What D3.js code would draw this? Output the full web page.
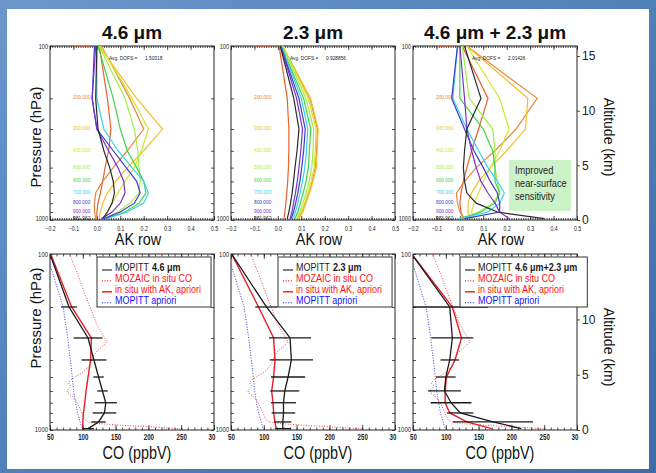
<!DOCTYPE html>
<html>
<head>
<meta charset="utf-8">
<script src="https://cdn.jsdelivr.net/npm/d3@7"></script>
<style>
  body { margin: 0; background: #4f80b8; }
  svg text { font-family: "Liberation Sans", Arial, sans-serif; }
</style>
</head>
<body>
<svg id="chart" width="656" height="473"></svg>
<script>
// ---- data ----
var levels = [100, 200, 300, 400, 500, 600, 700, 800, 900, 981.962];
var levelLabels = ['100.000','200.000','300.000','400.000','500.000','600.000','700.000','800.000','900.000','981.962'];
var levelColors = ['#e8622c','#e8883c','#f2bf2a','#d5e231','#a4ee45','#3fd24a','#36d2ee','#3a3ccc','#7a2fd0','#2a2a2a'];

var titles = ['4.6 \u03bcm', '2.3 \u03bcm', '4.6 \u03bcm + 2.3 \u03bcm'];
var dofs = ['1.50318', '0.928856', '2.01426'];
var akTicks = [-0.2, -0.1, 0.0, 0.1, 0.2, 0.3, 0.4, 0.5];
var coTicks = [50, 100, 150, 200, 250, 300];
var coTickLabels = ['50', '100', '150', '200', '250', '30'];
var altTicksTop = [0, 5, 10, 15];
var altTicksBottom = [0, 5, 10];

// averaging kernel rows (one per retrieval level, values at levels 100 hPa .. surface)
var ak46 = [
  [0.01, 0.045, 0.06, 0.05, 0.035, 0.025, 0.015, 0.005, 0.0, 0.0],
  [0.02, 0.14, 0.2, 0.13, 0.07, 0.025, -0.005, -0.01, -0.01, -0.005],
  [0.01, 0.17, 0.28, 0.2, 0.13, 0.08, 0.045, 0.025, 0.015, 0.01],
  [0.015, 0.15, 0.22, 0.19, 0.16, 0.12, 0.09, 0.065, 0.045, 0.03],
  [0.01, 0.12, 0.16, 0.175, 0.18, 0.185, 0.18, 0.14, 0.09, 0.035],
  [0.005, 0.07, 0.1, 0.13, 0.17, 0.2, 0.21, 0.18, 0.12, 0.04],
  [0.0, 0.0, 0.03, 0.09, 0.15, 0.2, 0.22, 0.2, 0.13, 0.04],
  [-0.01, -0.02, 0.0, 0.07, 0.125, 0.17, 0.185, 0.16, 0.1, 0.03],
  [-0.005, -0.02, 0.0, 0.05, 0.09, 0.115, 0.12, 0.1, 0.065, 0.02],
  [0.0, -0.005, 0.005, 0.03, 0.055, 0.07, 0.075, 0.065, 0.045, 0.025]
];
var ak23 = [
  [0.005, 0.04, 0.047, 0.047, 0.045, 0.042, 0.038, 0.034, 0.03, 0.026],
  [0.02, 0.137, 0.169, 0.165, 0.16, 0.147, 0.132, 0.117, 0.104, 0.088],
  [0.02, 0.14, 0.172, 0.168, 0.164, 0.15, 0.135, 0.12, 0.107, 0.09],
  [0.02, 0.13, 0.163, 0.16, 0.155, 0.142, 0.128, 0.114, 0.1, 0.085],
  [0.02, 0.12, 0.153, 0.15, 0.145, 0.133, 0.12, 0.107, 0.094, 0.08],
  [0.015, 0.11, 0.14, 0.135, 0.13, 0.12, 0.108, 0.096, 0.085, 0.072],
  [0.015, 0.1, 0.128, 0.122, 0.115, 0.105, 0.095, 0.085, 0.075, 0.064],
  [0.012, 0.09, 0.117, 0.11, 0.102, 0.094, 0.085, 0.076, 0.067, 0.057],
  [0.012, 0.08, 0.105, 0.098, 0.09, 0.083, 0.075, 0.067, 0.06, 0.052],
  [0.01, 0.068, 0.09, 0.082, 0.073, 0.067, 0.061, 0.054, 0.047, 0.04]
];
var akBoth = [
  [0.01, 0.12, 0.08, 0.05, 0.03, 0.015, 0.005, 0.0, 0.005, 0.015],
  [0.03, 0.33, 0.24, 0.15, 0.07, 0.02, -0.015, -0.01, 0.0, 0.02],
  [0.03, 0.29, 0.28, 0.2, 0.13, 0.08, 0.05, 0.035, 0.035, 0.045],
  [0.03, 0.17, 0.21, 0.17, 0.13, 0.1, 0.08, 0.06, 0.05, 0.06],
  [0.01, 0.04, 0.14, 0.15, 0.15, 0.16, 0.17, 0.14, 0.08, 0.02],
  [0.0, 0.0, 0.1, 0.14, 0.15, 0.15, 0.17, 0.15, 0.09, 0.0],
  [-0.01, -0.03, 0.03, 0.08, 0.12, 0.16, 0.19, 0.17, 0.12, 0.0],
  [-0.01, -0.035, 0.02, 0.06, 0.1, 0.13, 0.16, 0.17, 0.17, 0.02],
  [0.0, 0.02, 0.03, 0.05, 0.07, 0.09, 0.12, 0.15, 0.17, 0.21],
  [0.02, 0.09, 0.03, 0.02, 0.015, 0.02, 0.03, 0.07, 0.16, 0.36]
];

// CO profiles (ppbV) at the same levels
var mopitt46 = [50, 79, 108, 117, 124, 130, 135, 133, 124, 108];
var err46 = [0, 12, 22, 19, 8, 8, 17, 18, 11, 9];
var insitu46 = [51, 83, 113, 112, 108, 105, 103, 101, 100, 100];
var mopitt23 = [51, 104, 140, 142, 137, 132, 130, 130, 129, 129];
var err23 = [0, 17, 32, 33, 26, 22, 19, 18, 13, 12];
var insitu23 = [51, 92, 115, 117, 115, 112, 114, 115, 117, 119];
var mopittBoth = [48, 106, 110, 106, 100, 98, 108, 122, 172, 215];
var errBoth = [0, 58, 32, 14, 15, 25, 31, 20, 61, 0];
var insituBoth = [48, 110, 124, 114, 101, 99, 99, 106, 132, 170];
var apriori = [45, 70, 77, 81, 84, 86, 89, 92, 96, 99];

// MOZAIC aircraft profile
var mozaicP = [100, 130, 160, 200, 250, 290, 315, 335, 355, 380, 410, 440, 470, 495, 515, 540, 565, 590, 610, 640, 670, 710, 760, 820, 870, 900, 920, 940, 960, 985];
var mozaicCO = [80, 92, 101, 111, 121, 131, 137, 130, 122, 116, 113, 108, 100, 90, 83, 78, 82, 77, 76, 83, 88, 92, 96, 100, 103, 108, 125, 160, 205, 250];

var legendNames = ['MOPITT', 'MOZAIC in situ CO', 'in situ with AK, apriori', 'MOPITT apriori'];
var legendBold = ['4.6 \u03bcm', '2.3 \u03bcm', '4.6 \u03bcm+2.3 \u03bcm'];

// ---- layout ----
var svg = d3.select('#chart');
var cols = [50, 231, 413];
var boxW = 164;
var topRow = {y0: 46, y1: 220};
var botRow = {y0: 254, y1: 430};

var grad = svg.append('defs').append('linearGradient').attr('id', 'bg')
  .attr('x1', 0).attr('y1', 0).attr('x2', 1).attr('y2', 1);
grad.append('stop').attr('offset', 0).attr('stop-color', '#6b97cc');
grad.append('stop').attr('offset', 0.5).attr('stop-color', '#4f80b8');
grad.append('stop').attr('offset', 1).attr('stop-color', '#3d6ca6');
svg.append('rect').attr('width', 656).attr('height', 473).attr('fill', 'url(#bg)');
svg.append('rect').attr('x', 7).attr('y', 9).attr('width', 642).attr('height', 460).attr('fill', '#ffffff');

function squash(sel, k) {
  sel.each(function() {
    var w = this.getComputedTextLength();
    if (w > 0) d3.select(this).attr('textLength', w * k).attr('lengthAdjust', 'spacingAndGlyphs');
  });
}

function styleAxis(g, fs) {
  g.select('.domain').remove();
  g.selectAll('line').attr('stroke', '#222').attr('stroke-width', 0.8);
  g.selectAll('text').attr('fill', '#222').style('font-size', fs + 'px').style('font-family', '"Liberation Sans", Arial, sans-serif');
}

function clipFor(id, x0, y0, x1, y1) {
  svg.append('clipPath').attr('id', id).append('rect')
    .attr('x', x0).attr('y', y0).attr('width', x1 - x0).attr('height', y1 - y0);
  return 'url(#' + id + ')';
}

function pressureFrame(g, x, y, row, x0, pfs, rightTicks) {
  var pt = [100, 200, 300, 400, 500, 600, 700, 800, 900, 1000];
  g.append('g').attr('transform', 'translate(' + x0 + ',0)')
    .call(d3.axisLeft(y).tickValues(pt).tickSize(-3).tickPadding(2)
      .tickFormat(function(d) { return (d === 100 || d === 1000) ? d : ''; }))
    .call(styleAxis, pfs)
    .call(function(s) {
      s.selectAll('text').attr('dy', function(d) { return d === 1000 ? '0.15em' : '0.32em'; });
      squash(s.selectAll('text'), 0.85);
    });
  if (rightTicks) {
    g.append('g').attr('transform', 'translate(' + (x0 + boxW) + ',0)')
      .call(d3.axisRight(y).tickValues(pt).tickSize(-3).tickFormat(''))
      .call(styleAxis, pfs);
  }
  g.append('rect').attr('x', x0).attr('y', row.y0).attr('width', boxW).attr('height', row.y1 - row.y0)
    .attr('fill', 'none').attr('stroke', '#222').attr('stroke-width', 1);
}

function altitudeAxis(g, row, x0, ticks) {
  var alt = d3.scaleLinear().domain([0, 15.92]).range([row.y1, row.y0]);
  g.append('g').attr('transform', 'translate(' + (x0 + boxW) + ',0)')
    .call(d3.axisRight(alt).tickValues(ticks).tickSize(3).tickPadding(2))
    .call(styleAxis, 12);
}

// ---- top row: averaging kernels ----
var akSets = [ak46, ak23, akBoth];
akSets.forEach(function(ak, i) {
  var x0 = cols[i];
  var x = d3.scaleLinear().domain([-0.2, 0.5]).range([x0, x0 + boxW]);
  var y = d3.scaleLog().domain([100, 1000]).range([topRow.y0, topRow.y1]);
  var g = svg.append('g');

  // minor and major x ticks, bottom and top
  var minor = d3.range(-0.2, 0.5001, 0.01);
  [[d3.axisBottom, topRow.y1], [d3.axisTop, topRow.y0]].forEach(function(a) {
    g.append('g').attr('transform', 'translate(0,' + a[1] + ')')
      .call(a[0](x).tickValues(minor).tickSize(-2).tickFormat('')).call(styleAxis, 6);
  });
  g.append('g').attr('transform', 'translate(0,' + topRow.y1 + ')')
    .call(d3.axisBottom(x).tickValues(akTicks).tickSize(-4).tickPadding(6).tickFormat(d3.format('.1f')))
    .call(styleAxis, 6.5)
    .call(function(s) { squash(s.selectAll('text'), 0.8); });
  g.append('g').attr('transform', 'translate(0,' + topRow.y0 + ')')
    .call(d3.axisTop(x).tickValues(akTicks).tickSize(-4).tickFormat('')).call(styleAxis, 6);

  pressureFrame(g, x, y, topRow, x0, 6.5, i < 2);
  if (i === 2) altitudeAxis(g, topRow, x0, altTicksTop);

  var clip = clipFor('clipTop' + i, x0, topRow.y0, x0 + boxW, topRow.y1);
  var plot = g.append('g').attr('clip-path', clip);

  // level labels
  plot.selectAll('text.lev').data(levelLabels).enter().append('text')
    .attr('x', x0 + 23).attr('y', function(d, j) { return y(levels[j]) + 1; })
    .attr('fill', function(d, j) { return levelColors[j]; })
    .style('font-size', '6px').text(function(d) { return d; })
    .call(squash, 0.8);

  var line = d3.line()
    .x(function(d) { return x(d[0]); })
    .y(function(d) { return y(d[1]); });
  ak.forEach(function(row, j) {
    var pts = row.map(function(v, k) { return [v, levels[k]]; });
    plot.append('path').attr('d', line(pts))
      .attr('fill', 'none').attr('stroke', levelColors[j]).attr('stroke-width', 1.2);
  });

  g.append('text').attr('x', x0 + 59).attr('y', topRow.y0 + 14).style('font-size', '6px')
    .attr('fill', '#222').text('Avg. DOFS =').call(squash, 0.8);
  g.append('text').attr('x', x0 + 95).attr('y', topRow.y0 + 14).style('font-size', '6px')
    .attr('fill', '#222').text(dofs[i]).call(squash, 0.8);

  svg.append('text').attr('x', x0 + boxW / 2).attr('y', 39).attr('text-anchor', 'middle')
    .style('font-size', '19px').style('font-weight', 'bold').attr('fill', '#111').text(titles[i]);
  svg.append('text').attr('x', x0 + boxW / 2 + 6).attr('y', 245).attr('text-anchor', 'middle')
    .style('font-size', '16px').attr('fill', '#111').text('AK row').call(squash, 0.9);
});

// improved sensitivity note
svg.append('rect').attr('x', 509).attr('y', 160).attr('width', 62).attr('height', 51).attr('fill', '#ccf3c8');
['Improved', 'near-surface', 'sensitivity'].forEach(function(t, i) {
  svg.append('text').attr('x', 515).attr('y', 174 + i * 12.8).style('font-size', '11.5px')
    .attr('fill', '#222').text(t).call(squash, 0.8);
});

// ---- bottom row: CO profiles ----
var profSets = [
  {mop: mopitt46, err: err46, ins: insitu46},
  {mop: mopitt23, err: err23, ins: insitu23},
  {mop: mopittBoth, err: errBoth, ins: insituBoth}
];
profSets.forEach(function(p, i) {
  var x0 = cols[i];
  var x = d3.scaleLinear().domain([50, 300]).range([x0, x0 + boxW]);
  var y = d3.scaleLog().domain([100, 1000]).range([botRow.y0, botRow.y1]);
  var g = svg.append('g');

  var minor = d3.range(50, 300.1, 10);
  [[d3.axisBottom, botRow.y1], [d3.axisTop, botRow.y0]].forEach(function(a) {
    g.append('g').attr('transform', 'translate(0,' + a[1] + ')')
      .call(a[0](x).tickValues(minor).tickSize(-2.5).tickFormat('')).call(styleAxis, 6);
  });
  g.append('g').attr('transform', 'translate(0,' + botRow.y1 + ')')
    .call(d3.axisBottom(x).tickValues(coTicks).tickSize(-5).tickPadding(4)
      .tickFormat(function(d, k) { return coTickLabels[k]; }))
    .call(styleAxis, 8.5)
    .call(function(s) {
      s.selectAll('text').style('font-weight', 'bold')
        .attr('dx', function(d) { return d === 300 ? -2.5 : 0; });
      squash(s.selectAll('text'), 0.72);
    });
  g.append('g').attr('transform', 'translate(0,' + botRow.y0 + ')')
    .call(d3.axisTop(x).tickValues(coTicks).tickSize(-5).tickFormat('')).call(styleAxis, 6);

  pressureFrame(g, x, y, botRow, x0, 7, i < 2);
  if (i === 2) altitudeAxis(g, botRow, x0, altTicksBottom);

  var clip = clipFor('clipBot' + i, x0, botRow.y0, x0 + boxW, botRow.y1);
  var plot = g.append('g').attr('clip-path', clip);
  var line = d3.line()
    .x(function(d) { return x(d[0]); })
    .y(function(d) { return y(d[1]); });
  var zipL = function(arr) { return arr.map(function(v, k) { return [v, levels[k]]; }); };

  plot.append('path').attr('d', line(zipL(apriori)))
    .attr('fill', 'none').attr('stroke', '#3a3af0').attr('stroke-width', 1).attr('stroke-dasharray', '1,1.6');
  plot.append('path').attr('d', line(mozaicCO.map(function(v, k) { return [v, mozaicP[k]]; })))
    .attr('fill', 'none').attr('stroke', '#f04848').attr('stroke-width', 1).attr('stroke-dasharray', '1,1.6');
  plot.append('path').attr('d', line(zipL(p.ins)))
    .attr('fill', 'none').attr('stroke', '#e81c24').attr('stroke-width', 1.4);
  plot.append('path').attr('d', line(zipL(p.mop)))
    .attr('fill', 'none').attr('stroke', '#1a1a1a').attr('stroke-width', 1.3);

  // error bars, one per level that has an error value
  var idx = d3.range(levels.length).filter(function(k) { return p.err[k] > 0; });
  plot.selectAll('line.err').data(idx).enter().append('line')
    .attr('class', 'err')
    .attr('x1', function(k) { return x(p.mop[k] - p.err[k]); })
    .attr('x2', function(k) { return x(p.mop[k] + p.err[k]); })
    .attr('y1', function(k) { return y(levels[k]); })
    .attr('y2', function(k) { return y(levels[k]); })
    .attr('stroke', '#1a1a1a').attr('stroke-width', 1.3);

  // legend
  var lg = svg.append('g');
  var lx = x0 + 47, ly = 257;
  var box = lg.append('rect').attr('x', lx).attr('y', ly).attr('height', 50)
    .attr('fill', '#ffffff').attr('stroke', '#333').attr('stroke-width', 1);
  var maxW = 0;
  var colors = ['#1a1a1a', '#ff1010', '#ff1010', '#1010ff'];
  legendNames.forEach(function(name, k) {
    var by = ly + 14 + k * 10.9;
    var t = lg.append('text').attr('x', lx + 18).attr('y', by).attr('fill', colors[k])
      .style('font-size', '10px').text(name);
    var w0 = t.node().getComputedTextLength();
    squash(t, 0.9);
    var w = w0 * 0.9;
    if (k === 0) {
      var b = lg.append('text').attr('x', lx + 18 + w + 3).attr('y', by).attr('fill', colors[k])
        .style('font-size', '10px').style('font-weight', 'bold').text(legendBold[i]);
      var wb = b.node().getComputedTextLength();
      squash(b, 0.9);
      w += 3 + wb * 0.9;
    }
    maxW = Math.max(maxW, w);
    var sample = lg.append('line').attr('x1', lx + 5).attr('x2', lx + 15).attr('y1', by - 1).attr('y2', by - 1)
      .attr('stroke', colors[k]).attr('stroke-width', k === 2 ? 1.4 : 1.1);
    if (k === 1 || k === 3) sample.attr('stroke-dasharray', '1,1.6');
  });
  box.attr('width', maxW + 28);

  svg.append('text').attr('x', x0 + boxW / 2 + 5).attr('y', 459).attr('text-anchor', 'middle')
    .style('font-size', '18px').attr('fill', '#111').text('CO (ppbV)').call(squash, 0.8);
});

// axis titles
[[41, 137], [41, 318]].forEach(function(c) {
  svg.append('text').attr('transform', 'translate(' + c[0] + ',' + c[1] + ') rotate(-90)')
    .attr('text-anchor', 'middle').style('font-size', '15px').attr('fill', '#111').text('Pressure (hPa)');
});
[[603.5, 137], [603.5, 347]].forEach(function(c) {
  svg.append('text').attr('transform', 'translate(' + c[0] + ',' + c[1] + ') rotate(90)')
    .attr('text-anchor', 'middle').style('font-size', '14px').attr('fill', '#111').text('Altitude (km)');
});
</script>
</body>
</html>
